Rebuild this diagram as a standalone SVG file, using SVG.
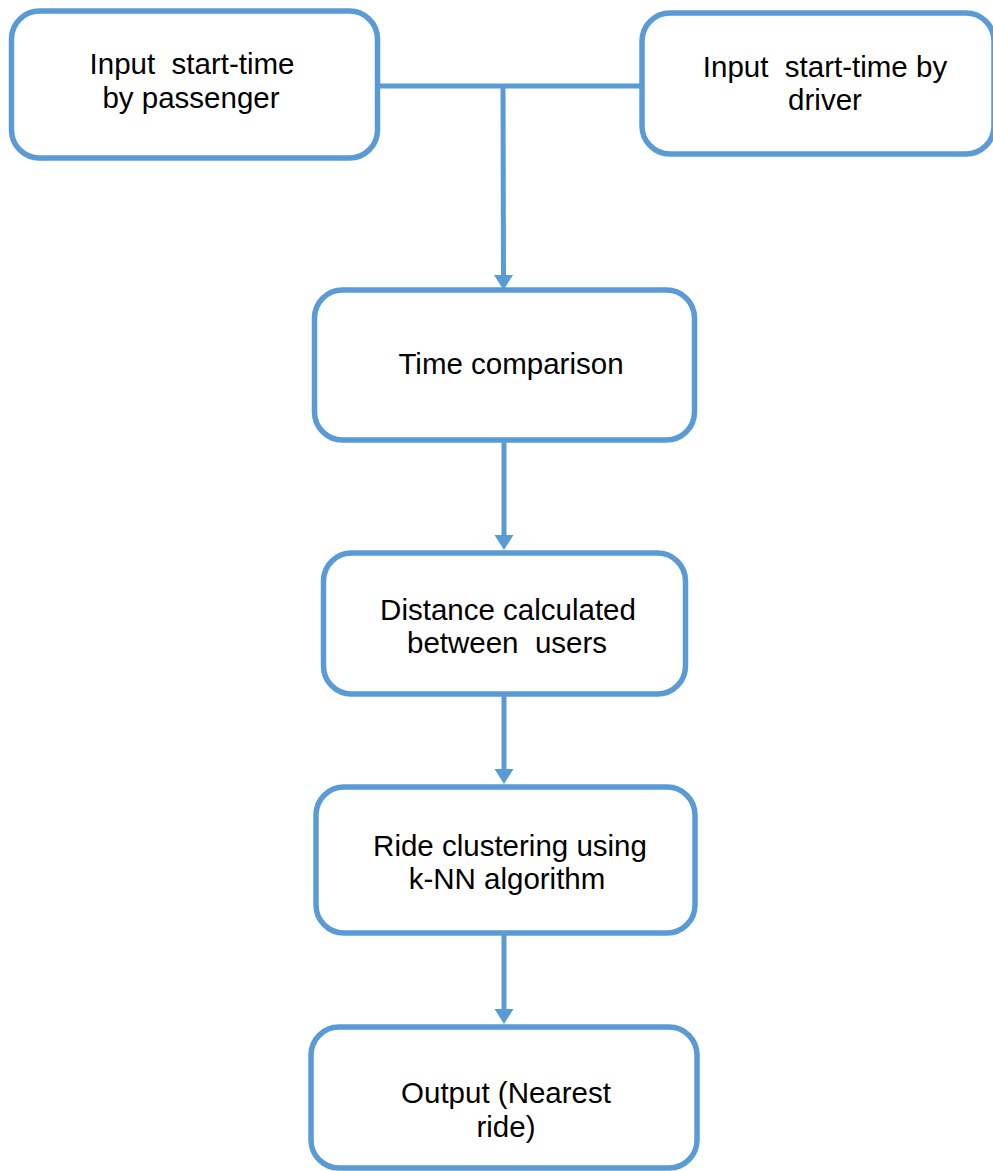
<svg xmlns="http://www.w3.org/2000/svg" width="993" height="1171" viewBox="0 0 993 1171">
<defs>
<style>
.box{fill:#ffffff;stroke:#5B9BD5;stroke-width:5.5}
.con{fill:none;stroke:#5B9BD5;stroke-width:5}
.t{font-family:"Liberation Sans",Arial,sans-serif;font-size:29.5px;fill:#000000;text-anchor:middle}
</style>
</defs>
<rect width="993" height="1171" fill="#ffffff"/>
<g id="connectors">
<path class="con" d="M377,86 L642,86"/>
<path class="con" d="M503,86 L503.5,276"/>
<polygon points="494,275 513,275 503.5,290" fill="#5B9BD5"/>
<path class="con" d="M504,440 L504,536"/>
<polygon points="494.5,535 513.5,535 504,550" fill="#5B9BD5"/>
<path class="con" d="M504,694 L504,770"/>
<polygon points="494.5,769 513.5,769 504,784" fill="#5B9BD5"/>
<path class="con" d="M504,934 L504,1010"/>
<polygon points="494.5,1009 513.5,1009 504,1024" fill="#5B9BD5"/>
</g>
<g id="node-passenger">
<rect class="box" x="11.5" y="11" width="366" height="147" rx="28"/>
<text class="t" x="192" y="74" xml:space="preserve">Input  start-time</text>
<text class="t" x="191" y="108">by passenger</text>
</g>
<g id="node-driver">
<rect class="box" x="642" y="13" width="352" height="141" rx="28"/>
<text class="t" x="825" y="77" xml:space="preserve">Input  start-time by</text>
<text class="t" x="825" y="110">driver</text>
</g>
<g id="node-time">
<rect class="box" x="314.5" y="290" width="380" height="150" rx="28"/>
<text class="t" x="511" y="374">Time comparison</text>
</g>
<g id="node-distance">
<rect class="box" x="323.5" y="553" width="362" height="141" rx="28"/>
<text class="t" x="508" y="620">Distance calculated</text>
<text class="t" x="507" y="653" xml:space="preserve">between  users</text>
</g>
<g id="node-ride">
<rect class="box" x="316" y="787" width="379" height="146" rx="28"/>
<text class="t" x="510" y="856">Ride clustering using</text>
<text class="t" x="507" y="889">k-NN algorithm</text>
</g>
<g id="node-output">
<rect class="box" x="311" y="1027" width="386" height="141" rx="28"/>
<text class="t" x="506" y="1103">Output (Nearest</text>
<text class="t" x="506" y="1137">ride)</text>
</g>
</svg>
